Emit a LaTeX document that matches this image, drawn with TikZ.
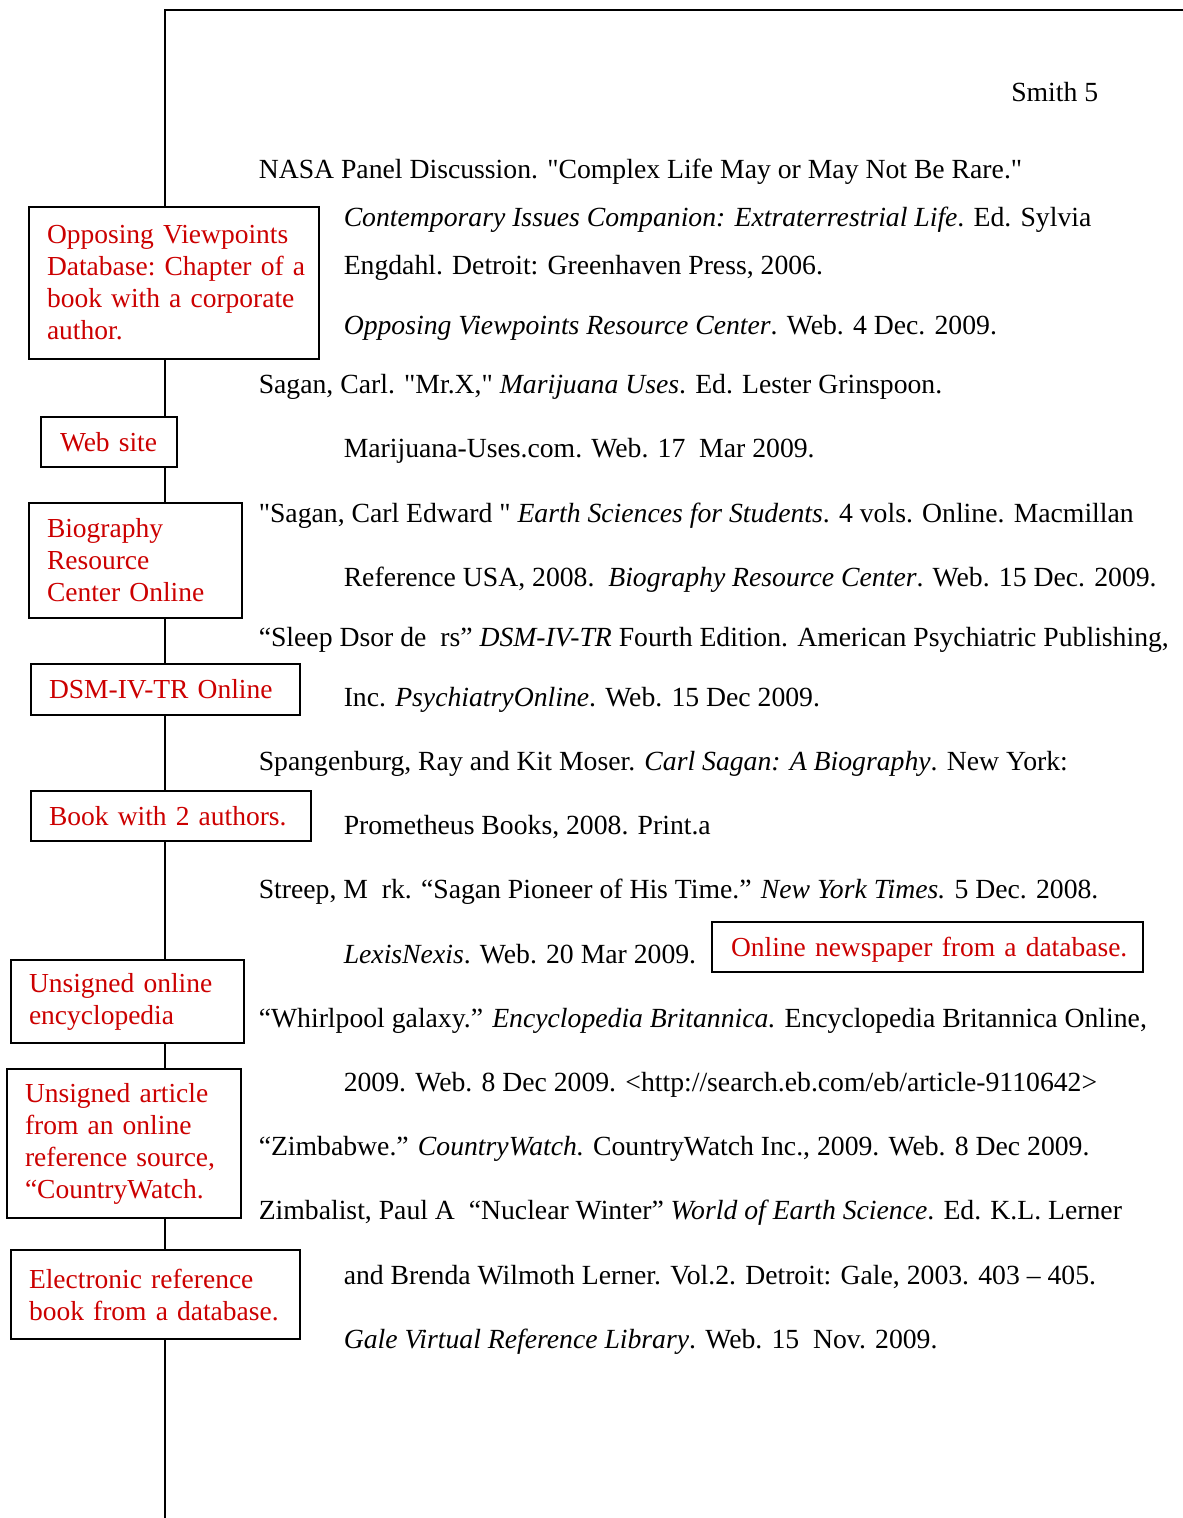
\documentclass[tikz,border=0pt]{standalone}
\usepackage{fontspec}
\setmainfont{Liberation Serif}
\usepackage{xcolor}
\definecolor{notered}{RGB}{204, 0, 0}
\usetikzlibrary{positioning}

\begin{document}
\begin{tikzpicture}[x=1pt, y=-1pt, line width=1.5pt,
	entry/.style={anchor=base west, inner sep=0pt, font=\fontsize{27.7}{32}\selectfont},
	tag/.style={draw, fill=white, align=left, text=notered, inner xsep=18pt, inner ysep=0pt,
		font=\fontsize{27.5}{32}\selectfont\frenchspacing}]
			\useasboundingbox (0,0) rectangle (1183,1518);
			
			% page edge
			\coordinate (corner) at (165,10);
			\coordinate (topright) at (1183,10);
			\coordinate (spinefoot) at (165,1518);
			\draw (spinefoot) -- (corner) -- (topright);
			
			\node [entry, anchor=base east] (smith) at (1099,101) {Smith 5};
			
			% works cited
			\node [entry] (nasaA) at (258,178) {NASA Panel Discussion. \textquotedbl Complex Life May or May Not Be Rare.\textquotedbl};
			\node [entry] (nasaB) at (343,226) {\textit{Contemporary Issues Companion: Extraterrestrial Life}. Ed. Sylvia};
			\node [entry] (nasaC) at (343,274) {Engdahl. Detroit: Greenhaven Press, 2006.};
			\node [entry] (nasaD) at (343,334) {\textit{Opposing Viewpoints Resource Center}. Web. 4 Dec. 2009.};
			\node [entry] (saganA) at (258,393) {Sagan, Carl. \textquotedbl Mr.X,\textquotedbl{} \textit{Marijuana Uses}. Ed. Lester Grinspoon.};
			\node [entry] (saganB) at (343,457) {Marijuana-Uses.com. Web. 17\ \ Mar 2009.};
			\node [entry] (bioA) at (258,522) {\textquotedbl Sagan, Carl Edward \textquotedbl{} \textit{Earth Sciences for Students}. 4 vols. Online. Macmillan};
			\node [entry] (bioB) at (343,586) {Reference USA, 2008.\ \ \textit{Biography Resource Center}. Web. 15 Dec. 2009.};
			\node [entry] (sleepA) at (258,646) {“Sleep Dsor de\ \ rs” \textit{DSM-IV-TR} Fourth Edition. American Psychiatric Publishing,};
			\node [entry] (sleepB) at (343,706) {Inc. \textit{PsychiatryOnline}. Web. 15 Dec 2009.};
			\node [entry] (spangA) at (258,770) {Spangenburg, Ray and Kit Moser. \textit{Carl Sagan: A Biography}. New York:};
			\node [entry] (spangB) at (343,834) {Prometheus Books, 2008. Print.a};
			\node [entry] (streepA) at (258,898) {Streep, M\ \ rk. “Sagan Pioneer of His Time.” \textit{New York Times.} 5 Dec. 2008.};
			\node [entry] (streepB) at (343,963) {\textit{LexisNexis}. Web. 20 Mar 2009.};
			\node [entry] (whirlA) at (258,1027) {“Whirlpool galaxy.” \textit{Encyclopedia Britannica.} Encyclopedia Britannica Online,};
			\node [entry] (whirlB) at (343,1091) {2009. Web. 8 Dec 2009. <http://search.eb.com/eb/article-9110642>};
			\node [entry] (zimbA) at (258,1155) {“Zimbabwe.” \textit{CountryWatch.} CountryWatch Inc., 2009. Web. 8 Dec 2009.};
			\node [entry] (zimbalA) at (258,1219) {Zimbalist, Paul A\ \ “Nuclear Winter” \textit{World of Earth Science}. Ed. K.L. Lerner};
			\node [entry] (zimbalB) at (343,1284) {and Brenda Wilmoth Lerner. Vol.2. Detroit: Gale, 2003. 403 – 405.};
			\node [entry] (zimbalC) at (343,1348) {\textit{Gale Virtual Reference Library}. Web. 15\ \ Nov. 2009.};
			
			% notes on the spine
			\node [tag, text width=254pt, minimum height=152pt] (opposing) at (174,283)
				{Opposing Viewpoints\\\mbox{Database: Chapter of a}\\\mbox{book with a corporate}\\author.};
			\node [tag, inner xsep=19pt, text width=98pt, minimum height=50pt] (website) at (109,442) {Web site};
			\node [tag, text width=177pt, minimum height=115pt] (biography) at (135.5,560.5)
				{Biography\\Resource\\Center Online};
			\node [tag, text width=233pt, minimum height=51pt] (dsm) at (165.5,689.5) {DSM-IV-TR Online};
			\node [tag, text width=244pt, minimum height=50pt] (twoauthors) at (171,816) {Book with 2 authors.};
			\node [tag, text width=197pt, minimum height=83pt] (encyclopedia) at (127.5,1001.5)
				{Unsigned online\\encyclopedia};
			\node [tag, text width=198pt, minimum height=149pt] (article) at (124,1143.5)
				{Unsigned article\\from an online\\\mbox{reference source,}\\“CountryWatch.};
			\node [tag, text width=253pt, minimum height=89pt] (ebook) at (155.5,1294.5)
				{Electronic reference\\\mbox{book from a database.}};
			\node [tag, inner xsep=19pt, text width=393pt, text depth=0pt, minimum height=50pt] (newspaper) at (927.5,947)
				{\mbox{Online newspaper from a database.}};
		\end{tikzpicture}
\end{document}
